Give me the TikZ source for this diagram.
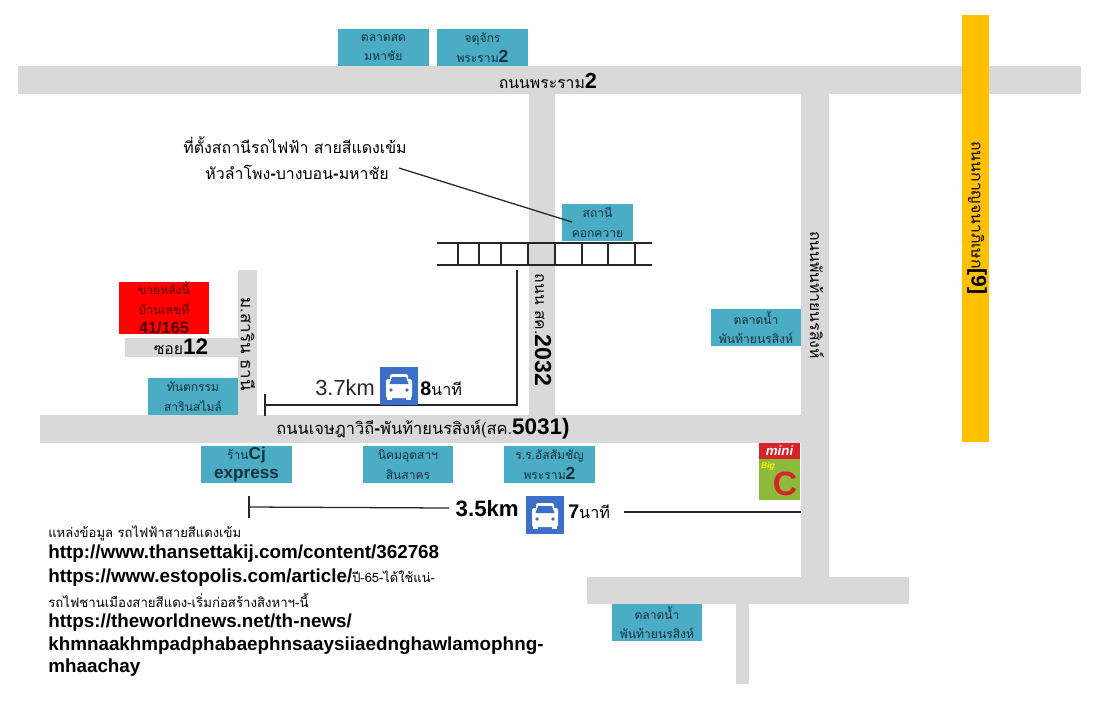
\documentclass[tikz,border=0pt]{standalone}
\usepackage{fontspec}
\usepackage{xcolor}
\setmainfont{Liberation Sans}
\newfontfamily\thaifont[Script=Thai]{Loma}
\definecolor{roadgray}{HTML}{D9D9D9}
\definecolor{ringyellow}{HTML}{FFC000}
\definecolor{placeblue}{HTML}{4BACC6}
\definecolor{carblue}{HTML}{3B6FC9}
\definecolor{placeink}{HTML}{17313B}
\definecolor{bigcgreen}{HTML}{8DB93C}
\definecolor{bigcred}{HTML}{D8232A}
\newcommand{\latinbold}[2]{{\normalfont\bfseries\fontsize{#1}{#1}\selectfont #2}}
\newcommand{\carsign}[2]{%
  \fill[carblue] (#1,#2) rectangle (#1+38,#2+38);
  \fill[white,rounded corners=1.2pt] (#1+6,#2+12) rectangle (#1+32,#2+31);
  \fill[white,rounded corners=1.5pt] (#1+10,#2+7) rectangle (#1+28,#2+16);
  \fill[carblue] (#1+12,#2+10) -- (#1+26,#2+10) -- (#1+28.5,#2+17) -- (#1+9.5,#2+17) -- cycle;
  \fill[carblue] (#1+11,#2+23) circle (1.8);
  \fill[carblue] (#1+27,#2+23) circle (1.8);
  \fill[white] (#1+7,#2+30) rectangle (#1+12,#2+33);
  \fill[white] (#1+26,#2+30) rectangle (#1+31,#2+33);
}
\tikzset{
  placebox/.style={fill=placeblue, text=placeink, minimum width=2.25cm, minimum height=0.925cm, inner sep=0pt, align=center, font=\thaifont\fontsize{8.6}{14}\selectfont},
  roadlabel/.style={inner sep=0pt, text=black, font=\thaifont\fontsize{11.2}{13}\selectfont},
  vertlabel/.style={roadlabel, rotate=-90},
  sourceline/.style={anchor=west, inner sep=0pt, text=black, font=\bfseries\fontsize{13.4}{15}\selectfont},
  sourcethai/.style={anchor=west, inner sep=0pt, text=black, font=\thaifont\fontsize{9.3}{11}\selectfont},
  link/.style={black!85, line width=0.9pt}
}
\begin{document}
\begin{tikzpicture}[x=0.025cm,y=-0.025cm]
\useasboundingbox (0,0) rectangle (1098,700);
% roads
\fill[roadgray] (18,66) rectangle (1081,94);
\fill[roadgray] (529,94) rectangle (555,415);
\fill[roadgray] (801,94) rectangle (829,577);
\fill[roadgray] (40,415) rectangle (829,443);
\fill[roadgray] (238,270) rectangle (257,415);
\fill[roadgray] (125,338) rectangle (238,357);
\fill[roadgray] (587,577) rectangle (909,604);
\fill[roadgray] (736,604) rectangle (749,684);
\fill[ringyellow] (962,15) rectangle (989,442);

\node[roadlabel] (rama) at (548,81) {ถนนพระราม\latinbold{15.5}{2}};
\node[roadlabel, font=\thaifont\fontsize{11.7}{13}\selectfont] (mainroad) at (423,429) {ถนนเจษฎาวิถี\latinbold{12.5}{-}พันท้ายนรสิงห์(สค.\latinbold{16}{5031)}};
\node[roadlabel] (soi) at (181,347) {ซอย\latinbold{16}{12}};
\node[vertlabel] (road2032) at (543,330) {ถนน สค.\latinbold{16.5}{2032}};
\node[vertlabel] (phanroad) at (817,295) {ถนนพันท้ายนรสิงห์};
\node[vertlabel, font=\thaifont\fontsize{12}{14}\selectfont] (sarinroad) at (248,344) {ม.สาริน ธานี};
\node[vertlabel] (ringroad) at (977,218) {ถนนกาญจนาภิเษก\latinbold{15}{[9]}};

% places
\node[placebox] (market) at (383.5,47.5) {ตลาดสด\\มหาชัย};
\node[placebox] (chatuchak) at (482.5,47.5) {จตุจักร\\พระราม\latinbold{12.5}{2}};
\node[placebox, minimum width=1.775cm] (station) at (597.5,222.5) {สถานี\\คอกควาย};
\node[placebox] (floating) at (756,327.5) {ตลาดน้ำ\\พันท้ายนรสิงห์};
\node[placebox] (dental) at (193,396.5) {ทันตกรรม\\สารินสไมล์};
\node[placebox] (cjshop) at (246.5,464.5) {ร้าน\latinbold{12.2}{Cj}\\\latinbold{12.2}{express}};
\node[placebox] (estate) at (408,464.5) {นิคมอุตสาฯ\\สินสาคร};
\node[placebox] (school) at (549.5,464.5) {ร.ร.อัสสัมชัญ\\พระราม\latinbold{12.5}{2}};
\node[placebox] (floatingb) at (657,622.5) {ตลาดน้ำ\\พันท้ายนรสิงห์};
\node[placebox, fill=red, minimum height=1.3cm, text=black!70!red] (house) at (164,308) {ขายหลังนี้\\บ้านเลขที่\\\latinbold{11.6}{41/165}};

% railway
\draw[link] (437,243) -- (652,243);
\draw[link] (437,265) -- (652,265);
\foreach \tiex in {458,479,501,528,555,582,608,635}
  \draw[link] (\tiex,243) -- (\tiex,265);

% station callout
\node[anchor=east, inner sep=0pt, text=black, font=\thaifont\fontsize{11.3}{13}\selectfont] (calloutb) at (389,172) {หัวลำโพง\latinbold{12}{-}บางบอน\latinbold{12}{-}มหาชัย};
\node[anchor=east, inner sep=0pt, text=black, font=\thaifont\fontsize{11.3}{13}\selectfont] (callouta) at (407,145) {ที่ตั้งสถานีรถไฟฟ้า สายสีแดงเข้ม};
\coordinate (calloutend) at (399,168);
\coordinate (stationend) at (572,222);
\draw[link] (calloutend) -- (stationend);

% distance 3.7
\coordinate (railfoot) at (517,270);
\coordinate (bendup) at (517,405);
\coordinate (dentalend) at (265,405);
\draw[link] (railfoot) -- (bendup) -- (dentalend);
\draw[link] (265,394) -- (265,416);
\node[anchor=east, inner sep=0pt, font=\fontsize{15.5}{17}\selectfont, text=black!85] (kmup) at (375,388) {3.7km};
\carsign{380}{367}
\node[anchor=west, inner sep=0pt, text=black, font=\thaifont\fontsize{11.5}{13}\selectfont] (minup) at (420,389) {\latinbold{14}{8}นาที};

% distance 3.5
\coordinate (cjend) at (249,507);
\coordinate (kmstop) at (449,508);
\coordinate (minstop) at (624,512);
\coordinate (bigcend) at (801,512);
\draw[link] (cjend) -- (kmstop);
\draw[link] (249,496) -- (249,518);
\draw[link] (minstop) -- (bigcend);
\node[anchor=east, inner sep=0pt, font=\bfseries\fontsize{15.8}{17}\selectfont, text=black] (kmlow) at (519,509) {3.5km};
\carsign{526}{496}
\node[anchor=west, inner sep=0pt, text=black, font=\thaifont\fontsize{11.5}{13}\selectfont] (minlow) at (568,512) {\latinbold{14}{7}นาที};

% mini big c
\fill[bigcgreen] (759,459) rectangle (800,500);
\fill[bigcred] (759,443) rectangle (800,459);
\node[inner sep=0pt, text=white, font=\bfseries\itshape\fontsize{9.5}{10}\selectfont] (minitag) at (779.5,451) {mini};
\node[inner sep=0pt, text=bigcred, font=\bfseries\fontsize{24}{26}\selectfont] (bigc) at (785,484) {C};
\node[inner sep=0pt, text=yellow, font=\bfseries\itshape\fontsize{6}{7}\selectfont] (bigtag) at (768,466) {Big};

% sources
\node[sourcethai] (src0) at (48,533) {แหล่งข้อมูล รถไฟฟ้าสายสีแดงเข้ม};
\node[sourceline] (src1) at (48,554) {http://www.thansettakij.com/content/362768};
\node[sourceline] (src2) at (48,578) {https://www.estopolis.com/article/{\thaifont\mdseries\fontsize{9.2}{11}\selectfont ปี-65-ได้ใช้แน่-}};
\node[sourcethai, font=\thaifont\fontsize{9.4}{11}\selectfont] (src3) at (48,601) {รถไฟชานเมืองสายสีแดง-เริ่มก่อสร้างสิงหาฯ-นี้};
\node[sourceline] (src4) at (48,623) {https://theworldnews.net/th-news/};
\node[sourceline] (src5) at (48,646) {khmnaakhmpadphabaephnsaaysiiaednghawlamophng-};
\node[sourceline] (src6) at (48,668) {mhaachay};
\end{tikzpicture}
\end{document}
